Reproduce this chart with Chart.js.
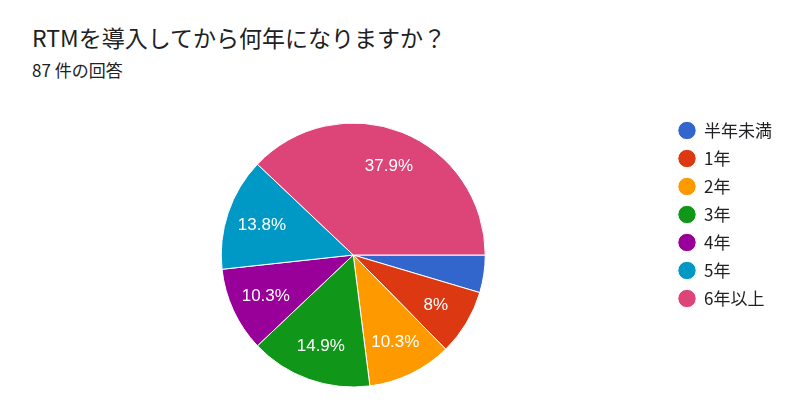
<!DOCTYPE html>
<html>
<head>
<meta charset="utf-8">
<script src="https://cdn.jsdelivr.net/npm/chart.js@4"></script>
<style>
  html, body { margin: 0; padding: 0; background: #fff; }
  body { width: 800px; height: 419px; position: relative; overflow: hidden;
         font-family: "Noto Sans CJK JP", Roboto, sans-serif; color: #202124; }
  #title { position: absolute; left: 32px; top: 21px; font-size: 23px; line-height: 32px; white-space: nowrap; }
  #sub { position: absolute; left: 32px; top: 59px; font-size: 17px; line-height: 22px; white-space: nowrap; }
  #wrap { position: absolute; left: 0; top: 0; width: 800px; height: 419px; }
</style>
</head>
<body>
<div id="title">RTMを導入してから何年になりますか？</div>
<div id="sub">87 件の回答</div>
<div id="wrap"><canvas id="chart"></canvas></div>
<script>
const categories = ['半年未満', '1年', '2年', '3年', '4年', '5年', '6年以上'];
const counts = [4, 7, 9, 13, 9, 12, 33];
const colors = ['#3366cc', '#dc3912', '#ff9900', '#109618', '#990099', '#0099c6', '#dd4477'];

// percent labels inside slices
const sliceLabels = {
	id: 'sliceLabels',
	afterDatasetsDraw(chart) {
		const ctx = chart.ctx;
		const meta = chart.getDatasetMeta(0);
		const total = counts.reduce((a, b) => a + b, 0);
		ctx.save();
		ctx.fillStyle = '#ffffff';
		ctx.font = '17px "Liberation Sans", Arial, sans-serif';
		ctx.textAlign = 'center';
		ctx.textBaseline = 'middle';
		meta.data.forEach((arc, i) => {
			const pct = counts[i] / total * 100;
			if (pct < 5) return;
			const mid = (arc.startAngle + arc.endAngle) / 2;
			const r = arc.outerRadius * 0.73;
			let txt = pct.toFixed(1);
			if (txt.endsWith('.0')) txt = txt.slice(0, -2);
			ctx.fillText(txt + '%', arc.x + Math.cos(mid) * r, arc.y + Math.sin(mid) * r + 1);
		});
		ctx.restore();
	}
};

new Chart(document.getElementById('chart'), {
	type: 'pie',
	data: {
		labels: categories,
		datasets: [{
			data: counts,
			backgroundColor: colors,
			borderColor: '#ffffff',
			borderWidth: 1
		}]
	},
	options: {
		responsive: true,
		maintainAspectRatio: false,
		animation: false,
		rotation: 90,
		radius: 132,
		layout: { padding: { top: 111, bottom: 20, left: 39, right: 18 } },
		plugins: {
			tooltip: { enabled: false },
			legend: {
				position: 'right',
				align: 'start',
				labels: {
					usePointStyle: true,
					pointStyle: 'circle',
					boxWidth: 17,
					boxHeight: 13,
					padding: 11,
					color: '#202124',
					font: { size: 17, family: '"Noto Sans CJK JP", Roboto, sans-serif' }
				}
			}
		}
	},
	plugins: [sliceLabels]
});
</script>
</body>
</html>
